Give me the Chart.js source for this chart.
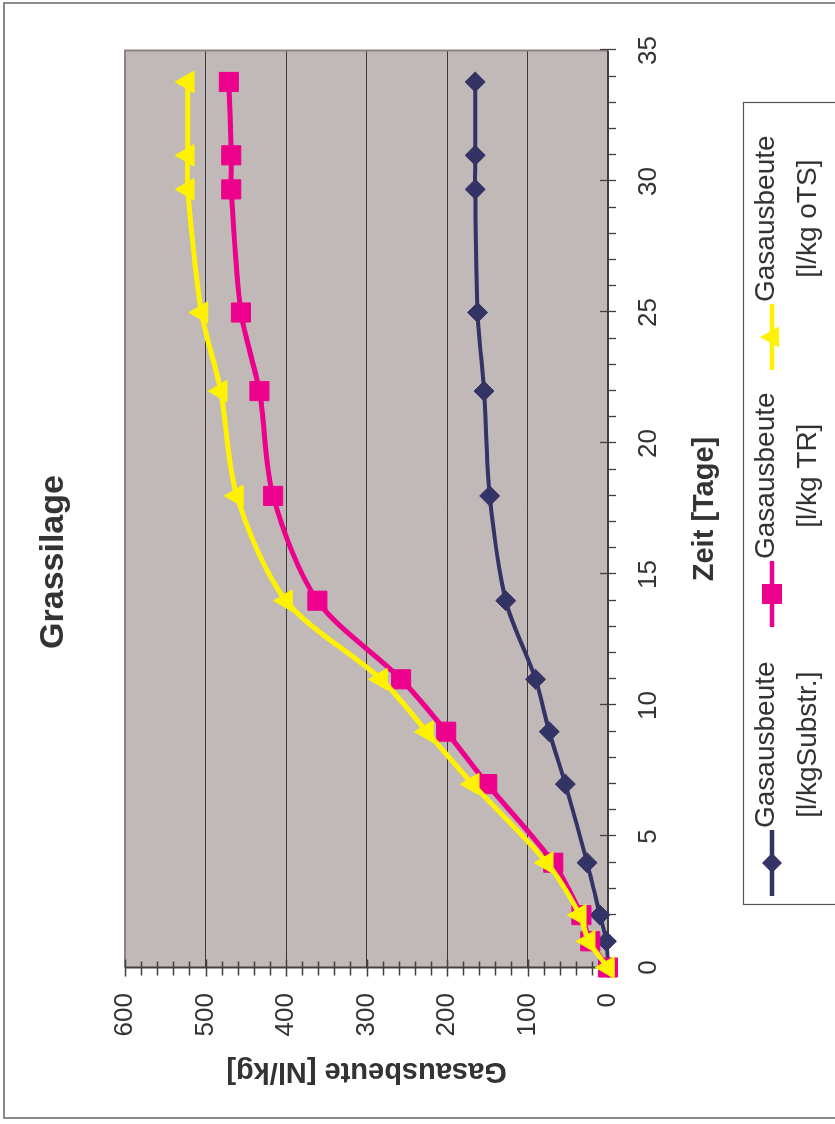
<!DOCTYPE html>
<html><head><meta charset="utf-8">
<script src="https://cdn.jsdelivr.net/npm/chart.js@4.4.0/dist/chart.umd.min.js"></script>
<style>
html,body{margin:0;padding:0;background:#fff;width:835px;height:1124px;overflow:hidden;}
#wrap{position:absolute;left:0;top:0;width:1124px;height:835px;transform-origin:0 0;transform:translate(0,1124px) rotate(-90deg);}
canvas{display:block;}
</style></head><body>
<div id="wrap"><canvas id="c" width="1124" height="835"></canvas></div>
<script>
// ---- data ----
const chartTitle = 'Grassilage';
const xAxisTitle = 'Zeit [Tage]';
const yAxisTitle = 'Gasausbeute [Nl/kg]';
const days   = [0, 1, 2, 4, 7, 9, 11, 14, 18, 22, 25, 29.7, 31, 33.8];
const perSubstr = [0, 2, 10, 26, 53, 73, 90, 127, 147, 154, 162, 165, 165, 165];
const perTR     = [0, 22, 33, 68, 150, 201, 257, 361, 416, 433, 456, 468, 468, 471];
const perOTS    = [0, 24, 35, 76, 168, 225, 282, 400, 461, 481, 505, 522, 522, 522];
const legendLines = [['Gasausbeute', '[l/kgSubstr.]'], ['Gasausbeute', '[l/kg TR]'], ['Gasausbeute', '[l/kg oTS]']];
const xRange = [0, 35];
const yRange = [0, 600];

const FONT = '"Liberation Sans", Arial, sans-serif';
const NAVY = '#333366', PINK = '#EC008C', YEL = '#FFF200';
const TXT = '#333333';

function pts(arr){ return days.map((d,i)=>({x:d, y:arr[i]})); }

const bgPlugin = {
  id:'bg',
  beforeDraw(chart){
    const {ctx, chartArea:a} = chart;
    ctx.save();
    ctx.fillStyle = '#C0B9B7';
    ctx.fillRect(a.left, a.top, a.right-a.left, a.bottom-a.top);
    ctx.restore();
  },
  beforeDatasetsDraw(chart){
    const {ctx, chartArea:a, scales} = chart;
    const xs = scales.x, ys = scales.y;
    ctx.save();
    // plot border (grey)
    ctx.strokeStyle = '#8C8282'; ctx.lineWidth = 2;
    ctx.beginPath();
    ctx.moveTo(a.left, a.top); ctx.lineTo(a.right, a.top); ctx.lineTo(a.right, a.bottom);
    ctx.stroke();
    // axes
    ctx.strokeStyle = '#404040'; ctx.lineWidth = 2;
    ctx.beginPath();
    ctx.moveTo(a.left, a.top); ctx.lineTo(a.left, a.bottom); ctx.lineTo(a.right, a.bottom);
    ctx.stroke();
    ctx.lineWidth = 1.3;
    ctx.beginPath();
    for (let d = xRange[0]; d <= xRange[1]; d++) {
      const px = Math.round(xs.getPixelForValue(d)) + 0.5;
      const major = d % 5 === 0;
      ctx.moveTo(px, a.bottom - (major ? 8 : 0));
      ctx.lineTo(px, a.bottom + 8);
    }
    for (let v = yRange[0]; v <= yRange[1]; v += 20) {
      const py = Math.round(ys.getPixelForValue(v)) + 0.5;
      const major = v % 100 === 0;
      ctx.moveTo(a.left - (major ? 9 : 8), py);
      ctx.lineTo(a.left + (major ? 8 : 6), py);
    }
    ctx.stroke();
    ctx.restore();
  },
  afterDraw(chart){
    const {ctx} = chart;
    ctx.save();
    // outer frame
    ctx.strokeStyle = '#666'; ctx.lineWidth = 1.5;
    ctx.strokeRect(6, 4, 1115, 850);
    // title
    ctx.fillStyle = TXT;
    ctx.font = 'bold 34px ' + FONT;
    ctx.textAlign = 'center'; ctx.textBaseline = 'middle';
    ctx.fillText(chartTitle, 562, 54);
    // legend
    ctx.strokeStyle = '#555'; ctx.lineWidth = 1.2;
    ctx.strokeRect(219.5, 743.5, 802, 120);
    const ds = chart.data.datasets;
    const centers = [261, 530, 787];
    const symY = 772;
    ds.forEach((d, i) => {
      const cx = centers[i];
      ctx.strokeStyle = d.borderColor; ctx.lineWidth = 4.5;
      ctx.beginPath(); ctx.moveTo(cx - 33, symY); ctx.lineTo(cx + 33, symY); ctx.stroke();
      ctx.fillStyle = d.borderColor;
      ctx.beginPath();
      if (d.pointStyle === 'rectRot') {
        ctx.moveTo(cx, symY - 10); ctx.lineTo(cx + 10, symY); ctx.lineTo(cx, symY + 10); ctx.lineTo(cx - 10, symY);
      } else if (d.pointStyle === 'rect') {
        ctx.rect(cx - 10, symY - 10, 20, 20);
      } else {
        ctx.moveTo(cx, symY - 12); ctx.lineTo(cx + 10.5, symY + 7); ctx.lineTo(cx - 10.5, symY + 7);
      }
      ctx.closePath(); ctx.fill();
      const lines = legendLines[i];
      ctx.font = '28px ' + FONT;
      ctx.fillStyle = TXT;
      ctx.textBaseline = 'alphabetic';
      const w1 = ctx.measureText(lines[0]).width;
      const sx = cx + 35;
      ctx.textAlign = 'left';
      ctx.fillText(lines[0], sx, 774);
      ctx.textAlign = 'center';
      ctx.fillText(lines[1], sx + w1 / 2, 816);
    });
    ctx.restore();
  }
};

new Chart(document.getElementById('c'), {
  type: 'line',
  data: {
    datasets: [
      { label: legendLines[0].join(' '), data: pts(perSubstr), borderColor: NAVY, backgroundColor: NAVY,
        borderWidth: 4, pointStyle: 'rectRot', pointRadius: 10, pointBorderWidth: 1,
        pointBackgroundColor: NAVY, pointBorderColor: NAVY, tension: 0.3, order: 3, clip: false },
      { label: legendLines[1].join(' '), data: pts(perTR), borderColor: PINK, backgroundColor: PINK,
        borderWidth: 5, pointStyle: 'rect', pointRadius: 13.5, pointBorderWidth: 1,
        pointBackgroundColor: PINK, pointBorderColor: PINK, tension: 0.3, order: 2, clip: false },
      { label: legendLines[2].join(' '), data: pts(perOTS), borderColor: YEL, backgroundColor: YEL,
        borderWidth: 5, pointStyle: 'triangle', pointRadius: 12.5, pointBorderWidth: 1,
        pointBackgroundColor: YEL, pointBorderColor: YEL, tension: 0.3, order: 1, clip: false }
    ]
  },
  options: {
    responsive: false, animation: false, devicePixelRatio: 1,
    layout: { padding: { top: 125, right: 50.5, left: 0, bottom: 0 } },
    plugins: { legend: { display: false }, title: { display: false }, tooltip: { enabled: false } },
    scales: {
      x: {
        type: 'linear', min: xRange[0], max: xRange[1],
        afterFit(s){ s.height = 227; },
        grid: { display: false, drawTicks: false },
        border: { display: false },
        ticks: { stepSize: 5, padding: 25, color: TXT, font: { family: FONT, size: 26 }, maxRotation: 0 },
        title: { display: true, text: xAxisTitle, color: TXT, font: { family: FONT, size: 29, weight: 'bold' },
                 padding: { top: 0, bottom: 112.6 } }
      },
      y: {
        min: yRange[0], max: yRange[1],
        afterFit(s){ s.width = 156.5; },
        grid: { drawTicks: false, lineWidth: 1,
                color: c => (c.tick && (c.tick.value === yRange[0] || c.tick.value === yRange[1])) ? 'rgba(0,0,0,0)' : '#3a3a3a' },
        border: { display: false },
        ticks: { stepSize: 100, padding: 25.5, color: TXT, font: { family: FONT, size: 26 } },
        title: { display: true, text: yAxisTitle, color: TXT, font: { family: FONT, size: 29, weight: 'bold' },
                 padding: { top: 35.6, bottom: 0 } }
      }
    }
  },
  plugins: [bgPlugin]
});
</script>
</body></html>
